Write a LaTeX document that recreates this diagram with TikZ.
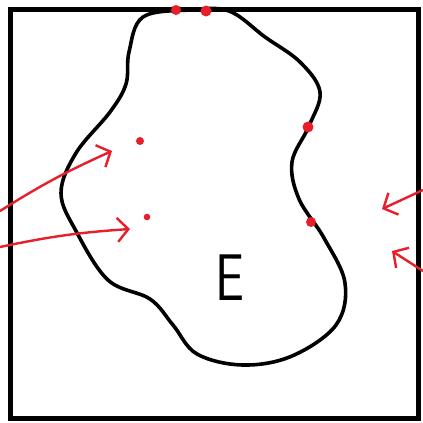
\documentclass[tikz,border=0pt]{standalone}
\usetikzlibrary{arrows.meta}
\definecolor{pen}{RGB}{232,30,42}
\begin{document}
\begin{tikzpicture}[x=1pt,y=-1pt,
  frame/.style={line width=5pt},
  blobline/.style={line width=3.6pt, line join=round},
  redarrow/.style={draw=pen, line width=2.4pt, line cap=round,
    -{Straight Barb[length=11pt,width=24pt,line width=2.4pt]}},
  reddot/.style={fill=pen}]
\useasboundingbox (0,0) rectangle (423,423);
\fill[white] (0,0) rectangle (423,423);
\draw[frame] (10,9) rectangle (418,418);
\draw[blobline] plot[smooth cycle, tension=0.6] coordinates {
 (190,10) (229,11) (265,37) (300,62) (320,92) (309,126) (292,162)
 (299,199) (324,238) (345,283) (336,325) (292,356) (243,365) (197,354)
 (173,325) (150,299) (108,280) (76,231) (61,193) (76,153) (110,112)
 (126,84) (129,52) (143,17)};
\node[font=\sffamily\fontsize{66}{66}\selectfont, inner sep=0pt] (E) at (230,278) {\scalebox{0.78}[1]{E}};
\coordinate (a1s) at (0,211); \coordinate (a1e) at (112,151);
\coordinate (a2s) at (0,247); \coordinate (a2e) at (130,229);
\coordinate (a3s) at (423,190); \coordinate (a3e) at (382,209);
\coordinate (a4s) at (423,271); \coordinate (a4e) at (392,251);
\draw[redarrow] (a1s) to[bend left=4] (a1e);
\draw[redarrow] (a2s) to[bend left=4] (a2e);
\draw[redarrow] (a3s) -- (a3e);
\draw[redarrow] (a4s) -- (a4e);
\fill[reddot] (176,10) circle (5);
\fill[reddot] (206,11) circle (5.5);
\fill[reddot] (308,127) circle (5.5);
\fill[reddot] (311,222) circle (5);
\fill[reddot] (140,141) circle (4);
\fill[reddot] (147,217) circle (3.3);
\end{tikzpicture}
\end{document}
